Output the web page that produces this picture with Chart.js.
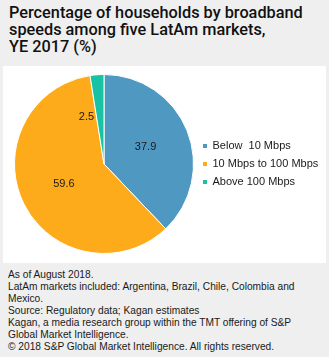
<!DOCTYPE html>
<html>
<head>
<meta charset="utf-8">
<script src="https://cdn.jsdelivr.net/npm/chart.js@4/dist/chart.umd.min.js"></script>
<style>
  html, body { margin: 0; padding: 0; }
  body { width: 329px; height: 357px; background: #efefef; position: relative; overflow: hidden; }
  #title { position: absolute; left: 9px; top: 4px; font: 500 16.3px Roboto, "Liberation Sans", sans-serif; line-height: 17px; color: #111; white-space: nowrap; }
  #panel { position: absolute; left: 3px; top: 66px; width: 323px; height: 197px; background: #fff; }
  #footer { position: absolute; left: 8px; top: 269px; font: 10.2px "Liberation Sans", Arial, sans-serif; line-height: 12px; color: #1a1a1a; white-space: nowrap; }
</style>
</head>
<body>
<div id="title">Percentage of households by broadband<br>speeds among five LatAm markets,<br>YE 2017 (%)</div>
<div id="panel"><canvas id="chart" width="323" height="197"></canvas></div>
<div id="footer">As of August 2018.<br>LatAm markets included: Argentina, Brazil, Chile, Colombia and<br>Mexico.<br>Source: Regulatory data; Kagan estimates<br>Kagan, a media research group within the TMT offering of S&amp;P<br>Global Market Intelligence.<br>© 2018 S&amp;P Global Market Intelligence. All rights reserved.</div>
<script>
// Broadband speed tiers and their household shares (%)
const categories = ['Below  10 Mbps', '10 Mbps to 100 Mbps', 'Above 100 Mbps'];
const shares = [37.9, 59.6, 2.5];
const colors = ['#4f98c2', '#fdab1a', '#17c3a3'];

// Writes each share inside its slice; thin slices get the value beside them
const sliceLabels = {
  id: 'sliceLabels',
  afterDatasetsDraw(chart) {
    const ctx = chart.ctx;
    const meta = chart.getDatasetMeta(0);
    ctx.save();
    ctx.font = '11px "Liberation Sans", Arial, sans-serif';
    ctx.fillStyle = '#1a1a1a';
    ctx.textBaseline = 'middle';
    meta.data.forEach((arc, i) => {
      const p = arc.getProps(['x', 'y', 'startAngle', 'endAngle', 'outerRadius']);
      const mid = (p.startAngle + p.endAngle) / 2;
      const sweep = p.endAngle - p.startAngle;
      const text = shares[i].toFixed(1);
      if (sweep < 0.3) {
        const r = p.outerRadius * 0.56;
        ctx.textAlign = 'right';
        ctx.fillText(text, p.x + Math.cos(mid) * r - 6, p.y + Math.sin(mid) * r + 3);
      } else {
        const r = p.outerRadius * 0.5;
        ctx.textAlign = 'center';
        ctx.fillText(text, p.x + Math.cos(mid) * r, p.y + Math.sin(mid) * r);
      }
    });
    ctx.restore();
  }
};

new Chart(document.getElementById('chart'), {
  type: 'pie',
  data: {
    labels: categories,
    datasets: [{
      data: shares,
      backgroundColor: colors,
      borderColor: '#ffffff',
      borderWidth: 1
    }]
  },
  options: {
    responsive: false,
    animation: false,
    layout: { padding: { left: 9, top: 8, bottom: 9, right: 3 } },
    plugins: {
      tooltip: { enabled: false },
      legend: {
        position: 'right',
        maxWidth: 127,
        labels: {
          boxWidth: 4,
          boxHeight: 4,
          padding: 7,
          color: '#1a1a1a',
          font: { family: '"Liberation Sans", Arial, sans-serif', size: 11 },
          // solid square swatches without the white slice outline
          generateLabels(chart) {
            return Chart.overrides.pie.plugins.legend.labels.generateLabels(chart)
              .map(item => Object.assign(item, { lineWidth: 0, strokeStyle: item.fillStyle }));
          }
        }
      }
    }
  },
  plugins: [sliceLabels]
});
</script>
</body>
</html>
